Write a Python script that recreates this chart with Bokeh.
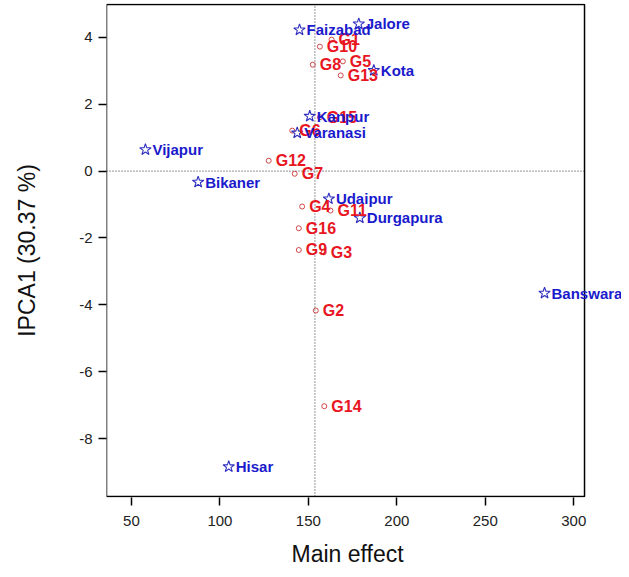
from bokeh.plotting import figure
from bokeh.models import (ColumnDataSource, LabelSet, FixedTicker, Range1d,
                          BoxAnnotation, CustomJSTickFormatter, Title)
from bokeh.core.properties import value
from bokeh.embed import file_html
from bokeh.resources import INLINE

# Environments (blue stars)
env_names = ["Faizabad", "Jalore", "Kota", "Kanpur", "Varanasi", "Vijapur",
             "Bikaner", "Udaipur", "Durgapura", "Banswara", "Hisar"]
env_main = [145.0, 178.5, 187.0, 150.8, 143.7, 57.9, 87.7, 161.6, 179.1, 283.5, 105.0]
env_ipca1 = [4.22, 4.40, 3.01, 1.64, 1.14, 0.64, -0.33, -0.83, -1.40, -3.65, -8.84]

# Genotypes (red circles)
gen_names = ["G1", "G2", "G3", "G4", "G5", "G6", "G7", "G8",
             "G9", "G10", "G11", "G12", "G13", "G14", "G15", "G16"]
gen_main = [163.1, 154.2, 158.7, 146.5, 169.5, 140.9, 142.3, 152.5,
            144.6, 156.5, 162.5, 127.6, 168.3, 159.0, 156.5, 144.6]
gen_ipca1 = [3.93, -4.17, -2.43, -1.06, 3.28, 1.21, -0.08, 3.18,
             -2.36, 3.72, -1.18, 0.31, 2.86, -7.03, 1.61, -1.71]

grand_mean = 153.7
x_ticks = [50, 100, 150, 200, 250, 300]
y_ticks = [-8, -6, -4, -2, 0, 2, 4]

# plotting box (data limits) and the wider drawing area so labels are not clipped
box_x = (35.9, 306.1)
box_y = (-9.73, 4.98)
draw_x = (35.9, 327.0)
draw_y = (-9.76, 5.01)

FONT = "Liberation Sans"
BLUE = "#1a1acc"
RED = "#e8161f"

p = figure(width=621, height=569, output_backend="svg", toolbar_location=None,
           x_range=Range1d(*draw_x), y_range=Range1d(*draw_y),
           min_border_left=106, min_border_right=0, min_border_top=3,
           min_border_bottom=72)
p.frame_width = 515
p.frame_height = 494

p.xgrid.visible = False
p.ygrid.visible = False
p.outline_line_color = None

for ax in (p.xaxis[0], p.yaxis[0]):
    ax.axis_line_color = None
    ax.minor_tick_line_color = None
    ax.major_tick_out = 8
    ax.major_tick_in = 0
    ax.major_tick_line_width = 1.5
    ax.major_tick_line_color = "black"
    ax.major_label_text_font = FONT
    ax.major_label_text_font_size = "15px"
    ax.major_label_text_color = "#222222"
    ax.axis_label_text_font = FONT
    ax.axis_label_text_font_size = "23px"
    ax.axis_label_text_font_style = "normal"
    ax.axis_label_text_color = "#111111"
    ax.formatter = CustomJSTickFormatter(code="return tick.toString();")

p.xaxis.ticker = FixedTicker(ticks=x_ticks)
p.yaxis.ticker = FixedTicker(ticks=y_ticks)
p.yaxis.axis_label = "IPCA1 (30.37 %)"
p.xaxis.major_label_standoff = 10
p.yaxis.major_label_standoff = 6
p.yaxis.axis_label_standoff = 36

p.add_layout(Title(text="Main effect", align="left", offset=185, standoff=21,
                   text_font=FONT, text_font_size="23px", text_font_style="normal",
                   text_color="#111111"), "below")

p.add_layout(BoxAnnotation(left=box_x[0], right=box_x[1], bottom=box_y[0], top=box_y[1],
                           fill_alpha=0, fill_color=None, line_color="black",
                           line_alpha=1, line_width=1.5))

p.segment(x0=[box_x[0]], y0=[0], x1=[box_x[1]], y1=[0], line_color="#555555",
          line_dash="1 2", line_width=1.2)
p.segment(x0=[grand_mean], y0=[box_y[0]], x1=[grand_mean], y1=[box_y[1]],
          line_color="#555555", line_dash="1 2", line_width=1.2)

gsrc = ColumnDataSource(dict(x=gen_main, y=gen_ipca1, name=gen_names))
esrc = ColumnDataSource(dict(x=env_main, y=env_ipca1, name=env_names))

p.scatter("x", "y", source=gsrc, marker="circle", size=5, fill_color=None,
          line_color="#d04848", line_width=1)
p.scatter("x", "y", source=esrc, marker="star", size=12, fill_color=None,
          line_color="#3030c0", line_width=1.1)

p.add_layout(LabelSet(x="x", y="y", text="name", source=gsrc, x_offset=7,
                      y_offset=0, text_baseline="middle", text_align="left",
                      text_font=value(FONT), text_font_style="bold",
                      text_font_size="16px", text_color=RED))
p.add_layout(LabelSet(x="x", y="y", text="name", source=esrc, x_offset=7,
                      y_offset=0, text_baseline="middle", text_align="left",
                      text_font=value(FONT), text_font_style="bold",
                      text_font_size="15px", text_color=BLUE))

open("out.html", "w").write(file_html(p, INLINE))
